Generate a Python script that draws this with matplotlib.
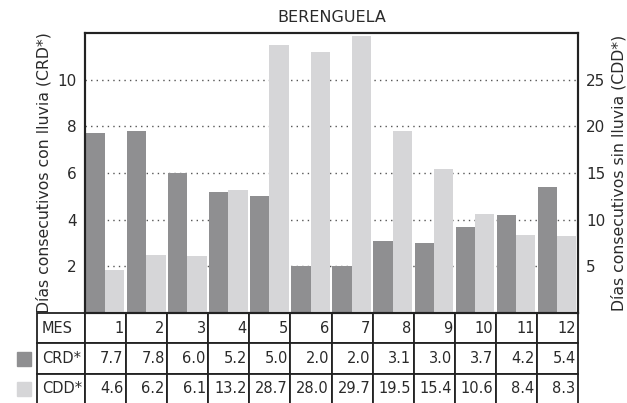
import numpy as np
import matplotlib
matplotlib.use("Agg")
import matplotlib.pyplot as plt
from matplotlib.patches import Rectangle

# Data
meses = ["1", "2", "3", "4", "5", "6", "7", "8", "9", "10", "11", "12"]
crd = [7.7, 7.8, 6.0, 5.2, 5.0, 2.0, 2.0, 3.1, 3.0, 3.7, 4.2, 5.4]
cdd = [4.6, 6.2, 6.1, 13.2, 28.7, 28.0, 29.7, 19.5, 15.4, 10.6, 8.4, 8.3]

dark = "#8f8f91"
light = "#d6d6d8"
txt = "#2a2a2a"
plt.rcParams["text.color"] = txt
plt.rcParams["ytick.color"] = txt
plt.rcParams["axes.labelcolor"] = txt

fig = plt.figure(figsize=(6.27, 4.03), dpi=100)
ax = fig.add_axes([0.1356, 0.2233, 0.7863, 0.6947])
ax2 = ax.twinx()

x = np.arange(len(meses))
w = 0.47
ax.bar(x + 0.02, crd, width=w, align="edge", color=dark, zorder=2)
ax2.bar(x + 0.02 + w, cdd, width=w, align="edge", color=light, zorder=2)

ax.set_xlim(0, 12)
ax.set_ylim(0, 12)
ax2.set_ylim(0, 30)
ax.set_yticks([2, 4, 6, 8, 10])
ax2.set_yticks([5, 10, 15, 20, 25])
ax.set_xticks([])
ax.grid(axis="y", linestyle=(0, (1, 3)), color="#555555", linewidth=1)
ax.set_axisbelow(True)
ax.tick_params(axis="y", length=0, labelsize=11, pad=6)
ax2.tick_params(axis="y", length=0, labelsize=11, pad=6)
for a in (ax, ax2):
    for s in a.spines.values():
        s.set_linewidth(1.5)
        s.set_color("#222222")

ax.set_ylabel("Días consecutivos con lluvia (CRD*)", fontsize=11.3)
ax2.set_ylabel("Días consecutivos sin lluvia (CDD*)", fontsize=11.3)
ax.set_title("BERENGUELA", fontsize=11.5, pad=8)

# Table under the bars
rows = [["MES"] + meses,
        ["CRD*"] + [f"{v:.1f}" for v in crd],
        ["CDD*"] + [f"{v:.1f}" for v in cdd]]
lx = -48 / 493
tab = ax.table(cellText=rows, cellLoc="right",
               bbox=[lx, -0.325, 1 - lx, 0.325])
tab.auto_set_font_size(False)
tab.set_fontsize(10.5)
ncol = len(rows[0])
first_w = -lx / (1 - lx)
for (r, c), cell in tab.get_celld().items():
    cell.set_linewidth(1.3)
    cell.set_edgecolor("#222222")
    cell.get_text().set_color(txt)
    if c == 0:
        cell.set_width(first_w)
        cell.get_text().set_horizontalalignment("left")
        cell.PAD = 0.1
    else:
        cell.set_width((1 - first_w) / (ncol - 1))
        cell.PAD = 0.06

# legend squares beside the table rows
fig.add_artist(Rectangle((17 / 627, 1 - 366 / 403), 14 / 627, 14 / 403,
                         transform=fig.transFigure, color=dark))
fig.add_artist(Rectangle((17 / 627, 1 - 396 / 403), 14 / 627, 14 / 403,
                         transform=fig.transFigure, color=light))

fig.savefig("out.png", dpi=100)
